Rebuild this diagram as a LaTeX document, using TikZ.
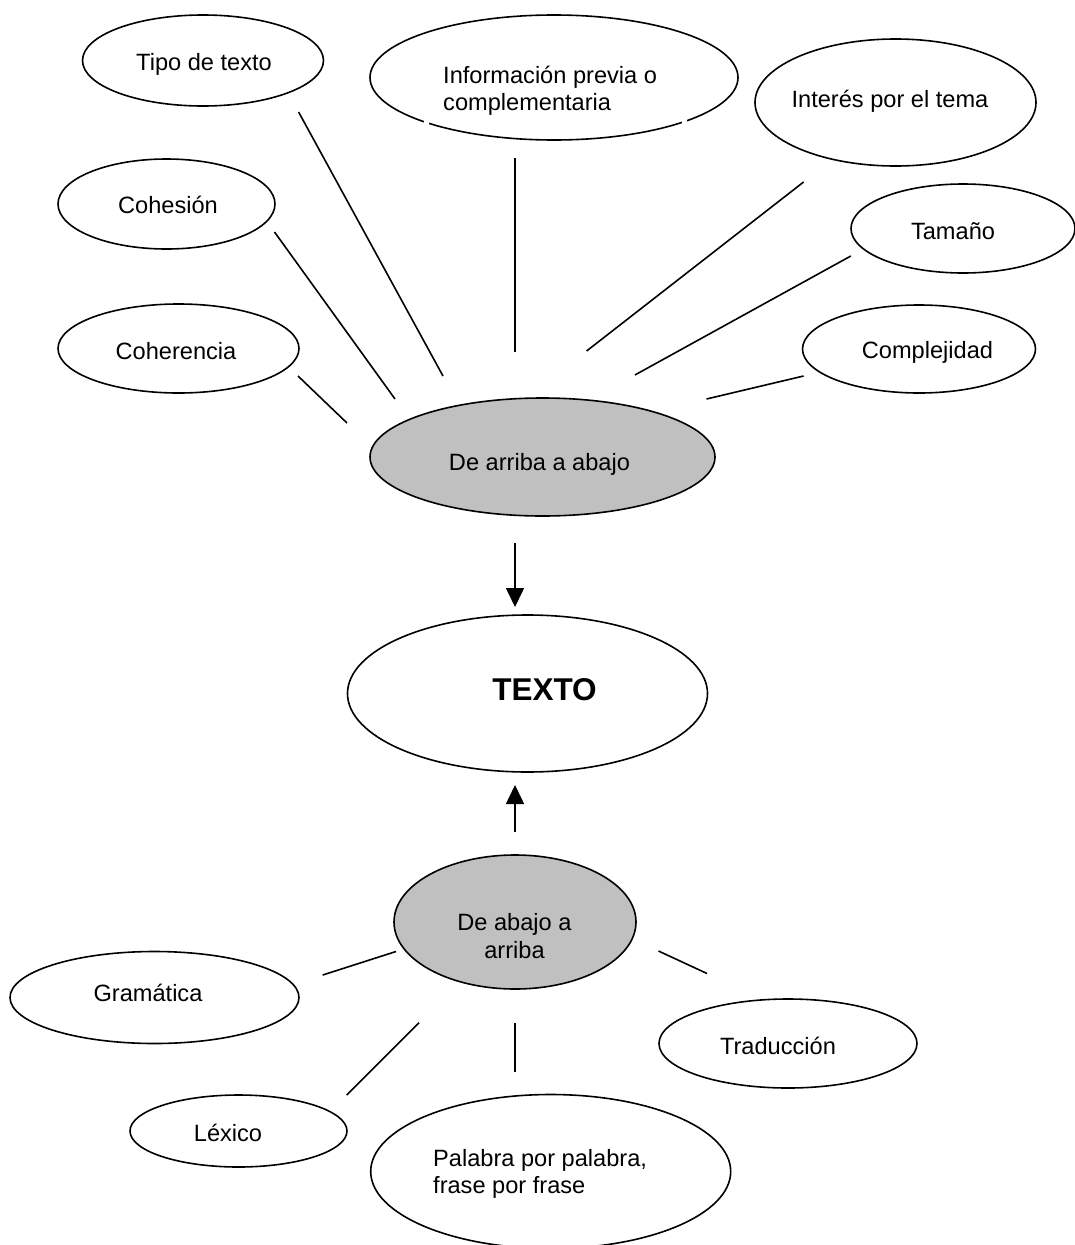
\documentclass[tikz,border=0pt]{standalone}
\usepackage{fontspec}
\setmainfont{Liberation Sans}
\usetikzlibrary{shapes.geometric,arrows.meta}
\definecolor{silverfill}{RGB}{192,192,192}
\newcommand\lbfont{\fontsize{23.6}{27.5}\selectfont}
\newcommand\bigfont{\fontsize{31.5}{36}\selectfont\bfseries}
\tikzset{
  bubble/.style={ellipse, draw, line width=1.6pt, inner sep=0pt, fill=white},
  shaded/.style={bubble, fill=silverfill},
  lbl/.style={inner sep=0pt, anchor=base, font=\lbfont},
  spoke/.style={line width=1.6pt},
  flow/.style={line width=1.6pt, -{Triangle[width=18pt,length=19pt]}},
}
\begin{document}
\begin{tikzpicture}[x=1pt,y=-1pt]
\useasboundingbox[fill=white] (0,0) rectangle (1075,1245);

% ---- top cluster ----
\node[bubble, minimum width=241pt, minimum height=91pt] (tipo) at (203,60.5) {};
\node[lbl] (tipo-t) at (204,70) {Tipo de texto};

\node[bubble, minimum width=368pt, minimum height=125pt] (info) at (554,77.5) {};
\node[lbl, anchor=base west, align=left] (info-t) at (443,110.5) {Información previa o\\complementaria};

\node[bubble, minimum width=281pt, minimum height=127pt] (interes) at (895.5,102.5) {};
\node[lbl] (interes-t) at (890,107) {Interés por el tema};

\node[bubble, minimum width=217pt, minimum height=90pt] (cohesion) at (166.5,204) {};
\node[lbl] (cohesion-t) at (168,213) {Cohesión};

\node[bubble, minimum width=224pt, minimum height=89pt] (tamano) at (963,228.5) {};
\node[lbl] (tamano-t) at (953,239) {Tamaño};

\node[bubble, minimum width=241pt, minimum height=89pt] (coherencia) at (178.5,348.5) {};
\node[lbl] (coherencia-t) at (176,359) {Coherencia};

\node[bubble, minimum width=233pt, minimum height=88pt] (complejidad) at (919,349) {};
\node[lbl] (complejidad-t) at (927.5,358) {Complejidad};

\node[shaded, minimum width=345pt, minimum height=118pt] (arriba) at (542.5,457) {};
\node[lbl] (arriba-t) at (539.5,470) {De arriba a abajo};

% small breaks in the outline of the "Información" ellipse
\draw[white, line width=5pt] (426,118) -- (426,127);
\draw[white, line width=5pt] (684.5,117) -- (684.5,126);

% spokes of the top cluster (free-floating segments)
\coordinate (s-tipo-a) at (298.6,112);   \coordinate (s-tipo-b) at (443,376);
\coordinate (s-info-a) at (515,158);     \coordinate (s-info-b) at (515,352);
\coordinate (s-int-a) at (803.6,182);    \coordinate (s-int-b) at (586.6,351);
\coordinate (s-coh-a) at (274.5,232);    \coordinate (s-coh-b) at (395,399);
\coordinate (s-tam-a) at (850.8,256);    \coordinate (s-tam-b) at (634.9,375);
\coordinate (s-cohe-a) at (298,376);     \coordinate (s-cohe-b) at (347,423);
\coordinate (s-comp-a) at (803.6,376);   \coordinate (s-comp-b) at (706.5,399);
\draw[spoke] (s-tipo-a) -- (s-tipo-b);
\draw[spoke] (s-info-a) -- (s-info-b);
\draw[spoke] (s-int-a) -- (s-int-b);
\draw[spoke] (s-coh-a) -- (s-coh-b);
\draw[spoke] (s-tam-a) -- (s-tam-b);
\draw[spoke] (s-cohe-a) -- (s-cohe-b);
\draw[spoke] (s-comp-a) -- (s-comp-b);

% ---- centre ----
\node[bubble, minimum width=360pt, minimum height=157pt] (texto) at (527.5,693.5) {};
\node[inner sep=0pt, anchor=base, font=\bigfont] (texto-t) at (544.5,700) {TEXTO};

\coordinate (down-a) at (515,543); \coordinate (down-b) at (515,607);
\coordinate (up-a) at (515,832);   \coordinate (up-b) at (515,785);
\draw[flow] (down-a) -- (down-b);
\draw[flow] (up-a) -- (up-b);

% ---- bottom cluster ----
\node[shaded, minimum width=242pt, minimum height=134pt] (abajo) at (515,922) {};
\node[lbl, align=center] (abajo-t) at (514.5,958) {De abajo a\\arriba};

\node[bubble, minimum width=289pt, minimum height=92pt] (gramatica) at (154.5,997.5) {};
\node[lbl] (gramatica-t) at (148,1001.7) {Gramática};

\node[bubble, minimum width=258pt, minimum height=89pt] (traduccion) at (788,1043.5) {};
\node[lbl] (traduccion-t) at (778,1054) {Traducción};

\node[bubble, minimum width=217pt, minimum height=72pt] (lexico) at (238.5,1131) {};
\node[lbl] (lexico-t) at (228,1141.7) {Léxico};

\node[bubble, minimum width=360pt, minimum height=154pt] (palabra) at (550.7,1171.5) {};
\node[lbl, anchor=base west, align=left] (palabra-t) at (433,1193.5) {Palabra por palabra,\\frase por frase};

\coordinate (s-gra-a) at (396,951.5);   \coordinate (s-gra-b) at (322.7,975);
\coordinate (s-tra-a) at (658.5,951);   \coordinate (s-tra-b) at (707,973.5);
\coordinate (s-lex-a) at (419,1022.7);  \coordinate (s-lex-b) at (346.7,1095);
\coordinate (s-pal-a) at (515,1023);    \coordinate (s-pal-b) at (515,1071.5);
\draw[spoke] (s-gra-a) -- (s-gra-b);
\draw[spoke] (s-tra-a) -- (s-tra-b);
\draw[spoke] (s-lex-a) -- (s-lex-b);
\draw[spoke] (s-pal-a) -- (s-pal-b);
\end{tikzpicture}
\end{document}
